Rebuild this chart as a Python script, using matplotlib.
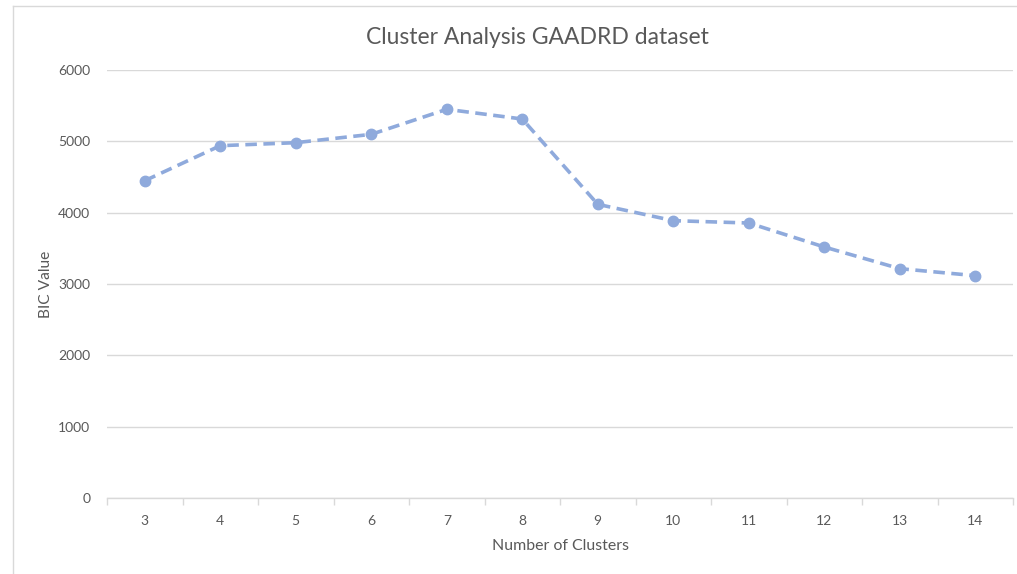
import matplotlib
matplotlib.use("Agg")
import matplotlib.pyplot as plt
from matplotlib.lines import Line2D

plt.rcParams['font.family'] = ['Lato', 'DejaVu Sans']

clusters = [3, 4, 5, 6, 7, 8, 9, 10, 11, 12, 13, 14]
bic_values = [4448, 4939, 4981, 5098, 5449, 5313, 4117, 3888, 3855, 3519, 3215, 3117]
y_ticks = [0, 1000, 2000, 3000, 4000, 5000, 6000]

W, H = 1017, 574
fig = plt.figure(figsize=(W / 100, H / 100), dpi=100)
fig.patch.set_facecolor('white')

# chart frame: only the left and top edges fall inside the image
fx, fy = 12.5 / W, 1 - 5.5 / H
fig.add_artist(Line2D([fx, fx], [0, fy], transform=fig.transFigure,
                      color='#d9d9d9', linewidth=1.0))
fig.add_artist(Line2D([fx, 1], [fy, fy], transform=fig.transFigure,
                      color='#d9d9d9', linewidth=1.0))

left, right = 107 / W, 1013 / W
bottom, top = 1 - 498 / H, 1 - 70 / H
ax = fig.add_axes([left, bottom, right - left, top - bottom])

pos = list(range(len(clusters)))
ax.plot(pos, bic_values, color='#8faadc', linestyle=(0, (3.2, 1.8)),
        linewidth=2.6, marker='o', markersize=7.5, markerfacecolor='#8faadc',
        markeredgecolor='#8faadc', zorder=3)

ax.set_xlim(-0.5, len(clusters) - 0.5)
ax.set_ylim(0, 6000)
ax.set_yticks(y_ticks)
ax.set_yticklabels([str(v) for v in y_ticks])
ax.set_xticks(pos)
ax.set_xticklabels([str(c) for c in clusters])

# category boundary tick marks
ax.set_xticks([p - 0.5 for p in pos] + [len(clusters) - 0.5], minor=True)
ax.tick_params(axis='x', which='major', length=0, pad=12, labelsize=10, colors='#595959')
ax.tick_params(axis='x', which='minor', length=5, color='#d9d9d9', width=1, direction='out')
ax.tick_params(axis='y', length=0, pad=12, labelsize=10, colors='#595959')

ax.grid(axis='y', color='#d9d9d9', linewidth=1.0)
ax.set_axisbelow(True)
for s in ['top', 'right', 'left']:
    ax.spines[s].set_visible(False)
ax.spines['bottom'].set_color('#d9d9d9')
ax.spines['bottom'].set_linewidth(1.0)

fig.text(537 / W, 1 - 37 / H, 'Cluster Analysis GAADRD dataset', ha='center', va='center',
         fontsize=16.5, color='#595959')
fig.text(46 / W, 1 - 284 / H, 'BIC Value', ha='center', va='center', rotation=90,
         fontsize=11.2, color='#595959')
fig.text(561 / W, 1 - 546 / H, 'Number of Clusters', ha='center', va='center',
         fontsize=11.4, color='#595959')

fig.savefig('out.png', dpi=100, facecolor='white')
